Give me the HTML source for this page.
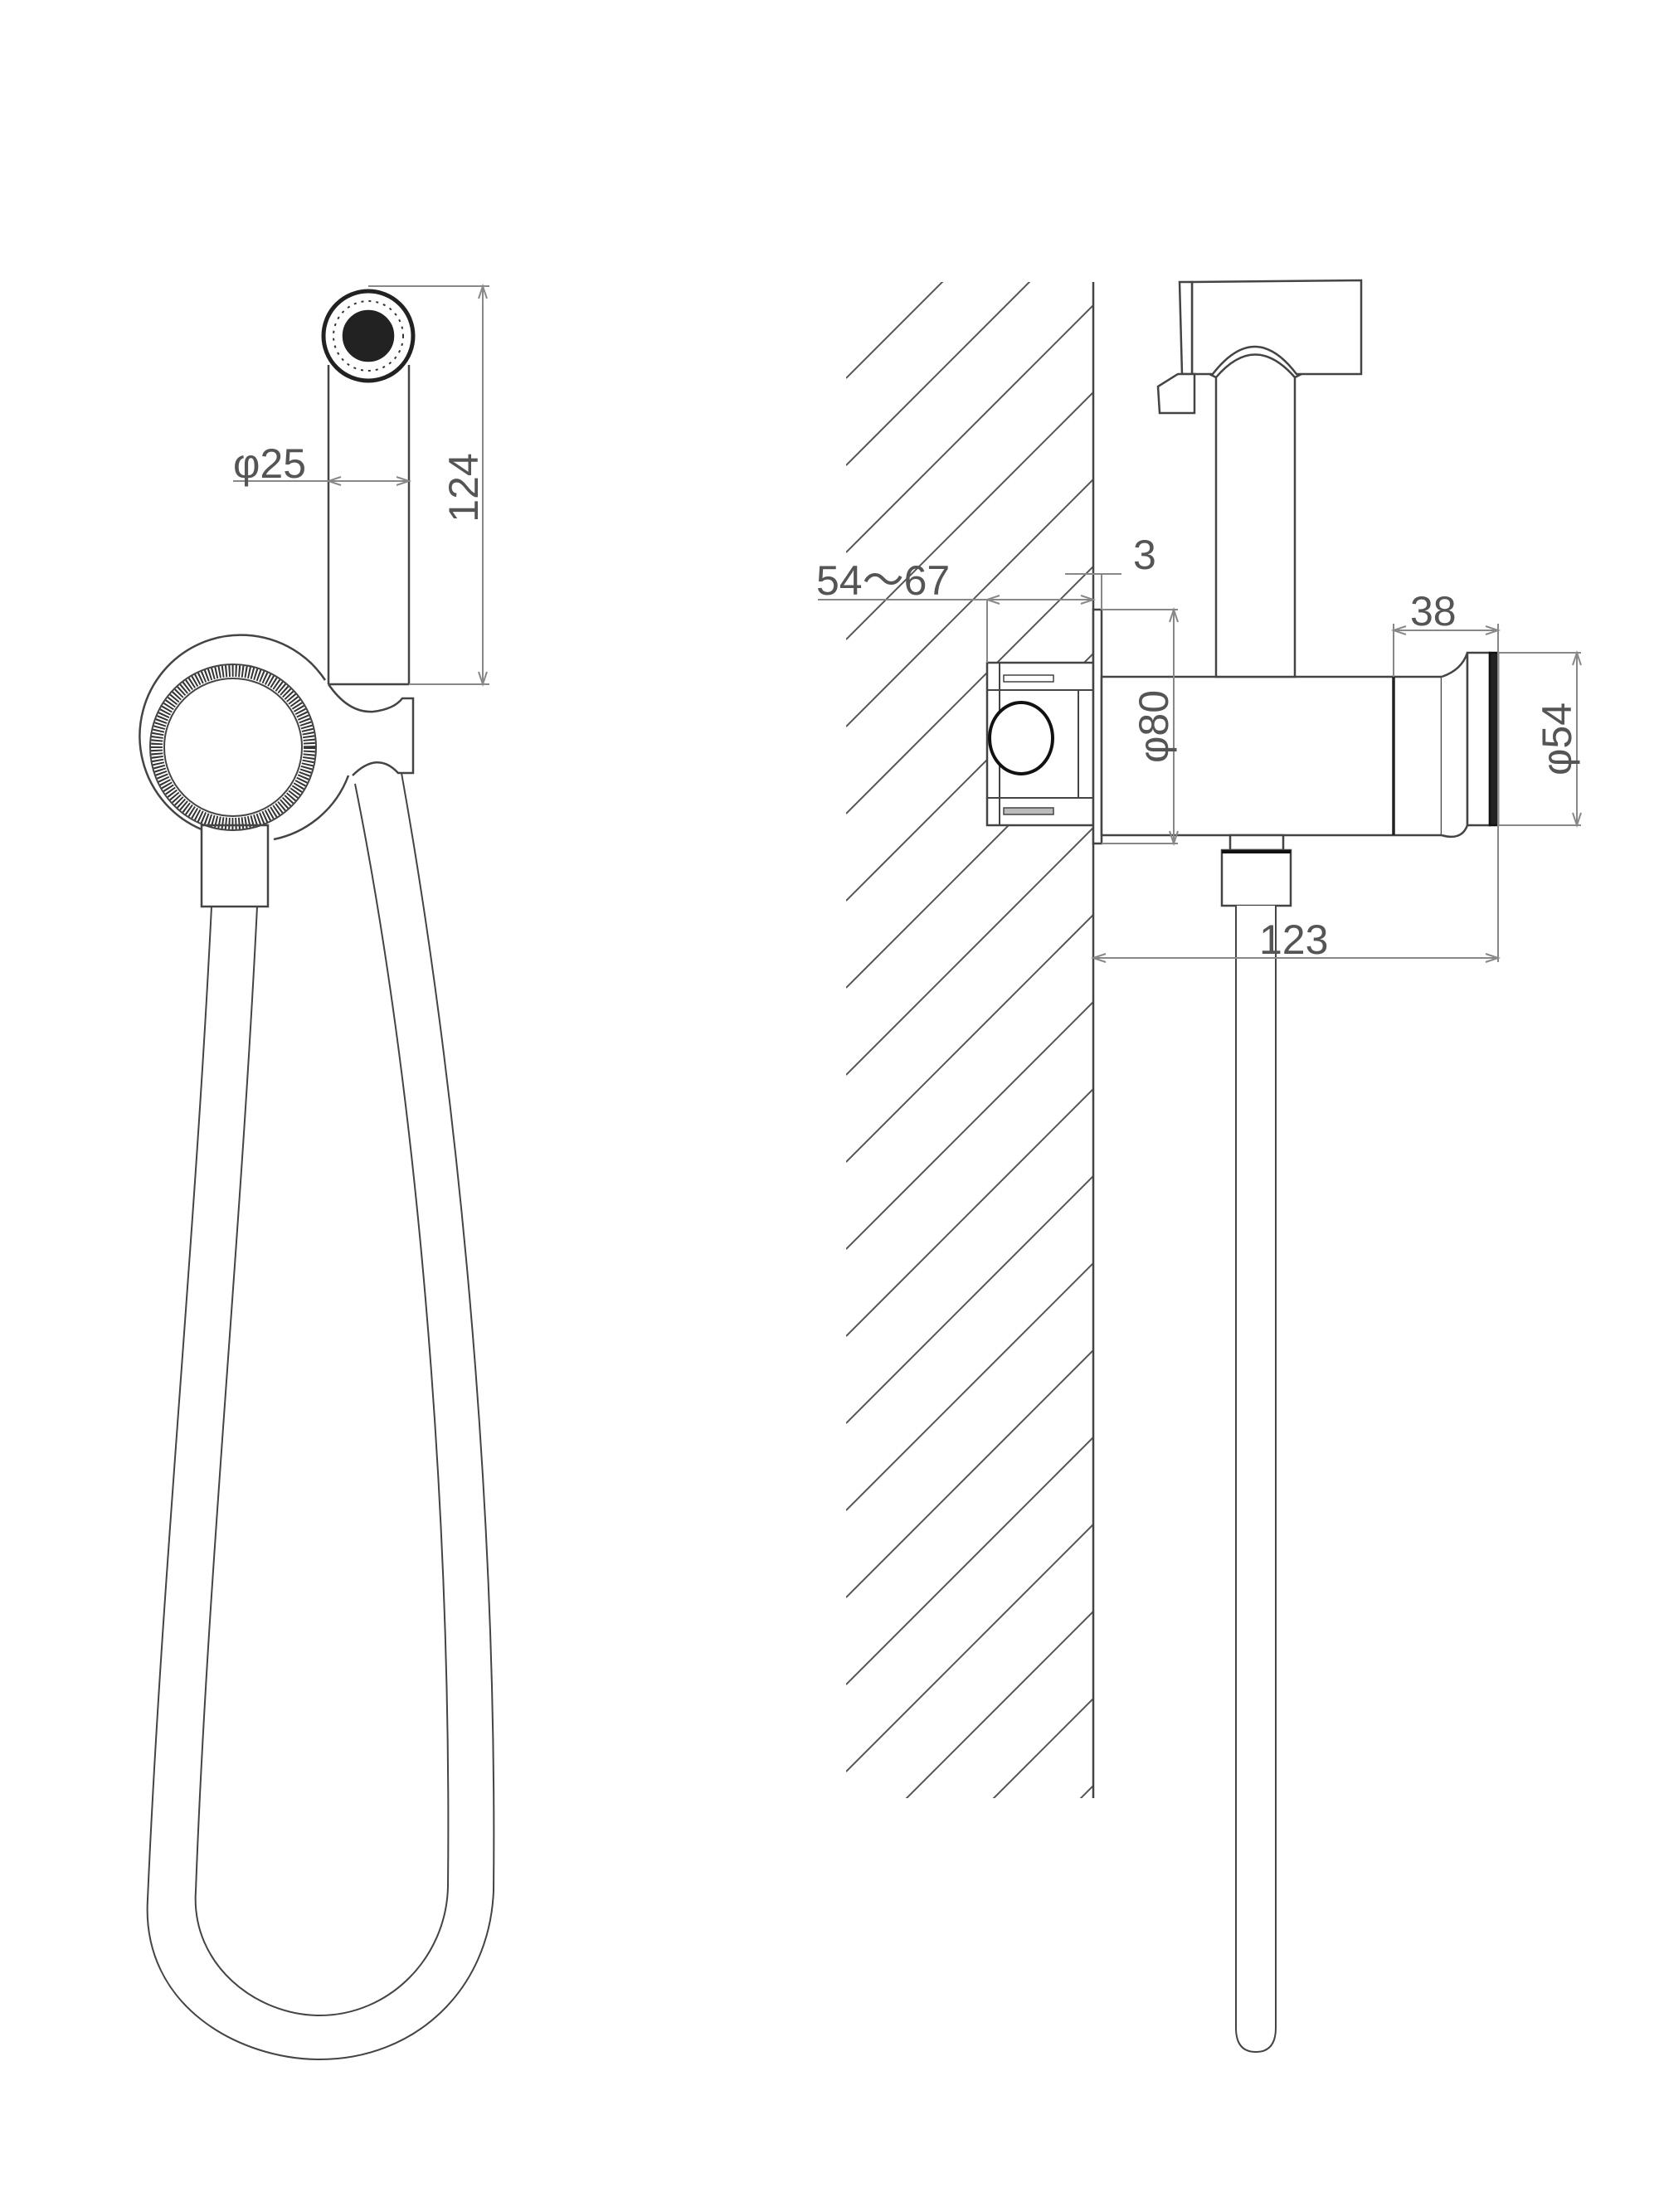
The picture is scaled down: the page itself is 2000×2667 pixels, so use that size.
<!DOCTYPE html>
<html><head><meta charset="utf-8"><style>
html,body{margin:0;padding:0;background:#fff}
svg{display:block}
text{font-family:"Liberation Sans","Noto Sans CJK SC",sans-serif;fill:#555}
</style></head><body>
<svg width="2000" height="2667" viewBox="0 0 2000 2667" xmlns="http://www.w3.org/2000/svg">
<defs>
<clipPath id="wall"><rect x="1020" y="340" width="298" height="1828"/></clipPath>
</defs>
<rect width="2000" height="2667" fill="#fff"/>

<!-- ===== LEFT VIEW ===== -->
<g fill="none" stroke="#444" stroke-width="2.5">
  <line x1="396" y1="440" x2="396" y2="825"/>
  <line x1="493" y1="440" x2="493" y2="825"/>
  <line x1="396" y1="825" x2="493" y2="825"/>
  <circle cx="444" cy="405" r="54" stroke-width="5" stroke="#222"/>
  <circle cx="444" cy="405" r="42" stroke="#333" stroke-width="2" stroke-dasharray="3 6"/>
  <circle cx="444" cy="405" r="30" fill="#222" stroke="#222"/>
  <path d="M392 820 A122 122 0 1 0 243 1000" />
  <path d="M420 935 A122 122 0 0 1 330 1012"/>
  <circle cx="281" cy="901" r="92" stroke="#333" stroke-width="14" stroke-dasharray="2 2"/>
  <circle cx="281" cy="901" r="100" stroke-width="2"/>
  <circle cx="281" cy="901" r="83" stroke-width="2"/>
  <path d="M396 825 Q420 860 450 858 Q475 855 485 842 L498 842 L498 932 L480 932 Q455 905 425 935"/>
  <rect x="243" y="995" width="80" height="98"/>
  <!-- hose -->
  <path d="M255 1093 C235 1500 195 1900 178 2290 C170 2420 290 2483 385 2483 C500 2483 590 2400 595 2280 C600 1800 550 1300 484 932" stroke-width="2"/>
  <path d="M310 1093 C290 1500 250 1900 236 2280 C230 2370 310 2430 385 2430 C470 2430 538 2360 540 2275 C545 1800 500 1300 428 945" stroke-width="2"/>
</g>
<g stroke="#888" stroke-width="2" fill="none">
  <line x1="444" y1="345" x2="590" y2="345"/>
  <line x1="493" y1="825" x2="590" y2="825"/>
  <line x1="582" y1="345" x2="582" y2="825"/>
  <line x1="281" y1="580" x2="493" y2="580"/>
  <path d="M577 360 L582 345 L587 360 M577 810 L582 825 L587 810 M411 575 L396 580 L411 585 M478 575 L493 580 L478 585"/>
</g>
<text x="281" y="576" font-size="50">φ25</text>
<text transform="translate(576,588) rotate(-90)" font-size="50" text-anchor="middle">124</text>

<!-- ===== RIGHT VIEW ===== -->
<g clip-path="url(#wall)" stroke="#555" stroke-width="2">
  <line x1="1020" y1="456" x2="1318" y2="158"/>
  <line x1="1020" y1="561" x2="1318" y2="263"/>
  <line x1="1020" y1="666" x2="1318" y2="368"/>
  <line x1="1020" y1="771" x2="1318" y2="473"/>
  <line x1="1020" y1="876" x2="1318" y2="578"/>
  <line x1="1020" y1="981" x2="1318" y2="683"/>
  <line x1="1020" y1="1086" x2="1318" y2="788"/>
  <line x1="1020" y1="1191" x2="1318" y2="893"/>
  <line x1="1020" y1="1296" x2="1318" y2="998"/>
  <line x1="1020" y1="1401" x2="1318" y2="1103"/>
  <line x1="1020" y1="1506" x2="1318" y2="1208"/>
  <line x1="1020" y1="1611" x2="1318" y2="1313"/>
  <line x1="1020" y1="1716" x2="1318" y2="1418"/>
  <line x1="1020" y1="1821" x2="1318" y2="1523"/>
  <line x1="1020" y1="1926" x2="1318" y2="1628"/>
  <line x1="1020" y1="2031" x2="1318" y2="1733"/>
  <line x1="1020" y1="2136" x2="1318" y2="1838"/>
  <line x1="1020" y1="2241" x2="1318" y2="1943"/>
  <line x1="1020" y1="2346" x2="1318" y2="2048"/>
  <line x1="1020" y1="2451" x2="1318" y2="2153"/>
</g>
<g fill="#fff" stroke="#444" stroke-width="2.5">
  <line x1="1318" y1="340" x2="1318" y2="2168"/>
  <rect x="1190" y="799" width="128" height="196"/>
  <line x1="1190" y1="832" x2="1318" y2="832" stroke-width="2"/>
  <line x1="1190" y1="962" x2="1318" y2="962" stroke-width="2"/>
  <line x1="1205" y1="799" x2="1205" y2="995" stroke-width="2"/>
  <line x1="1300" y1="832" x2="1300" y2="962" stroke-width="2"/>
  <rect x="1210" y="814" width="60" height="8" stroke-width="1.5"/>
  <rect x="1210" y="974" width="60" height="8" stroke-width="1.5" fill="#bbb"/>
  <ellipse cx="1231" cy="890" rx="38" ry="43" stroke="#111" stroke-width="4"/>
  <rect x="1318" y="735" width="10" height="282"/>
  <!-- body -->
  <rect x="1328" y="816" width="410" height="191"/>
  <line x1="1680" y1="816" x2="1680" y2="1007" stroke="#222" stroke-width="3.5"/>
  <path d="M1738 816 Q1762 808 1769 787 L1769 995 Q1762 1014 1738 1007"/>
  <rect x="1769" y="787" width="27" height="208"/>
  <rect x="1796" y="787" width="10" height="208" fill="#222" stroke="#111"/>
  <!-- handle stem -->
  <path d="M1466 816 L1466 455 Q1513 400 1561 455 L1561 816 Z"/>
  <path d="M1466 455 L1452 448 M1561 455 L1575 448" fill="none"/>
  <path d="M1437 340 L1641 338 L1641 451 L1563 451 Q1513 385 1462 451 L1437 451 Z"/>
  <path d="M1422 340 L1437 340 L1437 451 L1425 451 Z"/>
  <path d="M1420 451 L1440 451 L1440 498 L1398 498 L1396 466 Z"/>
  <rect x="1483" y="1007" width="64" height="18"/>
  <rect x="1473" y="1025" width="83" height="67"/>
  <line x1="1473" y1="1027" x2="1556" y2="1027" stroke="#111" stroke-width="4"/>
  <path d="M1490 1092 L1490 2445 Q1490 2474 1514 2474 Q1538 2474 1538 2445 L1538 1092" stroke-width="2"/>
</g>
<g stroke="#888" stroke-width="2" fill="none">
  <line x1="986" y1="723" x2="1318" y2="723"/>
  <line x1="1190" y1="723" x2="1190" y2="799"/>
  <line x1="1284" y1="692" x2="1352" y2="692"/>
  <line x1="1328" y1="692" x2="1328" y2="735"/>
  <line x1="1328" y1="735" x2="1420" y2="735"/>
  <line x1="1328" y1="1017" x2="1420" y2="1017"/>
  <line x1="1415" y1="735" x2="1415" y2="1017"/>
  <line x1="1680" y1="760" x2="1806" y2="760"/>
  <line x1="1680" y1="752" x2="1680" y2="816"/>
  <line x1="1806" y1="752" x2="1806" y2="1160"/>
  <line x1="1806" y1="787" x2="1906" y2="787"/>
  <line x1="1806" y1="995" x2="1906" y2="995"/>
  <line x1="1901" y1="787" x2="1901" y2="995"/>
  <line x1="1318" y1="1155" x2="1806" y2="1155"/>
  <path d="M1205 718 L1190 723 L1205 728 M1303 718 L1318 723 L1303 728 M1410 750 L1415 735 L1420 750 M1410 1002 L1415 1017 L1420 1002 M1695 755 L1680 760 L1695 765 M1791 755 L1806 760 L1791 765 M1896 802 L1901 787 L1906 802 M1896 980 L1901 995 L1906 980 M1333 1150 L1318 1155 L1333 1160 M1791 1150 L1806 1155 L1791 1160"/>
</g>
<text x="984" y="717" font-size="50">54～67</text>
<text x="1366" y="686" font-size="50">3</text>
<text transform="translate(1408,876) rotate(-90)" font-size="50" text-anchor="middle">φ80</text>
<text x="1700" y="754" font-size="50">38</text>
<text transform="translate(1894,891) rotate(-90)" font-size="50" text-anchor="middle">φ54</text>
<text x="1518" y="1150" font-size="50">123</text>
</svg>
</body></html>
